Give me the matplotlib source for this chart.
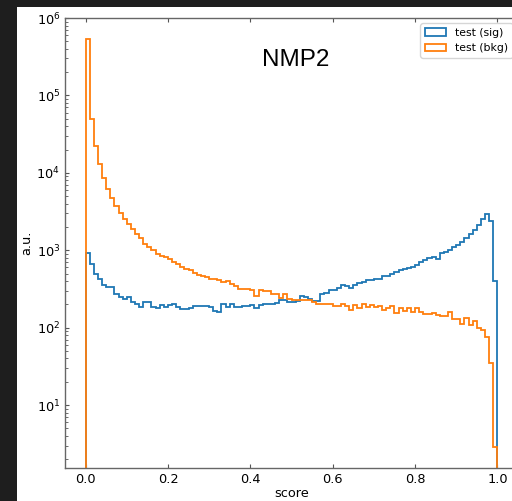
import matplotlib
matplotlib.use("Agg")
import matplotlib.pyplot as plt
import numpy as np
from matplotlib.patches import Rectangle

# 100 bins on [0, 1], counts
bin_edges = np.linspace(0.0, 1.0, 101)

sig_counts = [
    920, 660, 500, 431, 353, 336, 336, 276, 250, 238,
    250, 215, 205, 186, 215, 215, 186, 177, 195, 186,
    195, 201, 186, 173, 173, 182, 189, 193, 193, 193,
    186, 165, 160, 201, 186, 201, 186, 186, 189, 189,
    195, 182, 195, 201, 201, 201, 209, 227, 227, 215,
    215, 222, 260, 250, 238, 222, 222, 276, 281, 311,
    305, 330, 353, 343, 330, 353, 379, 390, 419, 419,
    431, 431, 462, 462, 490, 525, 552, 575, 597, 609,
    640, 700, 740, 790, 830, 780, 920, 951, 1020, 1100,
    1160, 1280, 1420, 1600, 1850, 2100, 2500, 2980, 2380, 400,
]

bkg_counts = [
    540000, 50000, 22000, 13200, 8600, 6100, 4800, 3700, 3000, 2570,
    2180, 1910, 1600, 1420, 1210, 1100, 1000, 906, 843, 830,
    775, 700, 670, 600, 575, 550, 510, 485, 470, 450,
    420, 420, 410, 390, 400, 370, 342, 318, 318, 315,
    310, 255, 310, 300, 296, 276, 276, 245, 276, 234,
    227, 227, 230, 230, 230, 215, 205, 205, 201, 201,
    189, 189, 205, 189, 168, 195, 180, 201, 186, 199,
    186, 189, 168, 182, 189, 155, 177, 165, 180, 160,
    177, 160, 152, 150, 155, 145, 141, 141, 160, 131,
    131, 113, 135, 108, 122, 100, 93, 76, 35, 2.9,
]

series_labels = ["test (sig)", "test (bkg)"]
x_ticks = [0.0, 0.2, 0.4, 0.6, 0.8, 1.0]

centers = 0.5 * (bin_edges[:-1] + bin_edges[1:])

fig = plt.figure(figsize=(5.12, 5.01), dpi=100, facecolor="#1e1e1e")
# white canvas of the screenshot, dark frame left and top
fig.add_artist(Rectangle((17 / 512, 0), 1, 494 / 501, transform=fig.transFigure,
                         facecolor="white", edgecolor="none", zorder=-5))

ax = fig.add_axes([65 / 512, 33 / 501, 453 / 512, 450 / 501])

ax.hist(centers, bins=bin_edges, weights=sig_counts, histtype="step",
        log=True, color="#1f77b4", lw=1.3, label=series_labels[0])
ax.hist(centers, bins=bin_edges, weights=bkg_counts, histtype="step",
        log=True, color="#ff7f0e", lw=1.3, label=series_labels[1])

ax.set_xlim(-0.05, 1.05)
ax.set_ylim(1.54, 1e6)
ax.set_xticks(x_ticks)
ax.set_xticklabels([f"{t:.1f}" for t in x_ticks])

ax.tick_params(which="both", direction="in", top=True, right=True,
               labelsize=9.3, color="#555555")
ax.tick_params(which="major", length=3)
ax.tick_params(which="minor", length=1.8)
for s in ax.spines.values():
    s.set_color("#666666")
    s.set_linewidth(1.0)

ax.set_xlabel("score", fontsize=9.3, labelpad=1)
ax.set_ylabel("a.u.", fontsize=9.3, labelpad=2)

ax.text(0.51, 0.907, "NMP2", transform=ax.transAxes, ha="center", va="center",
        fontsize=17.5, family="Liberation Sans")

ax.legend(loc="upper right", fontsize=7.8)

fig.savefig("out.png", dpi=100, facecolor=fig.get_facecolor())
